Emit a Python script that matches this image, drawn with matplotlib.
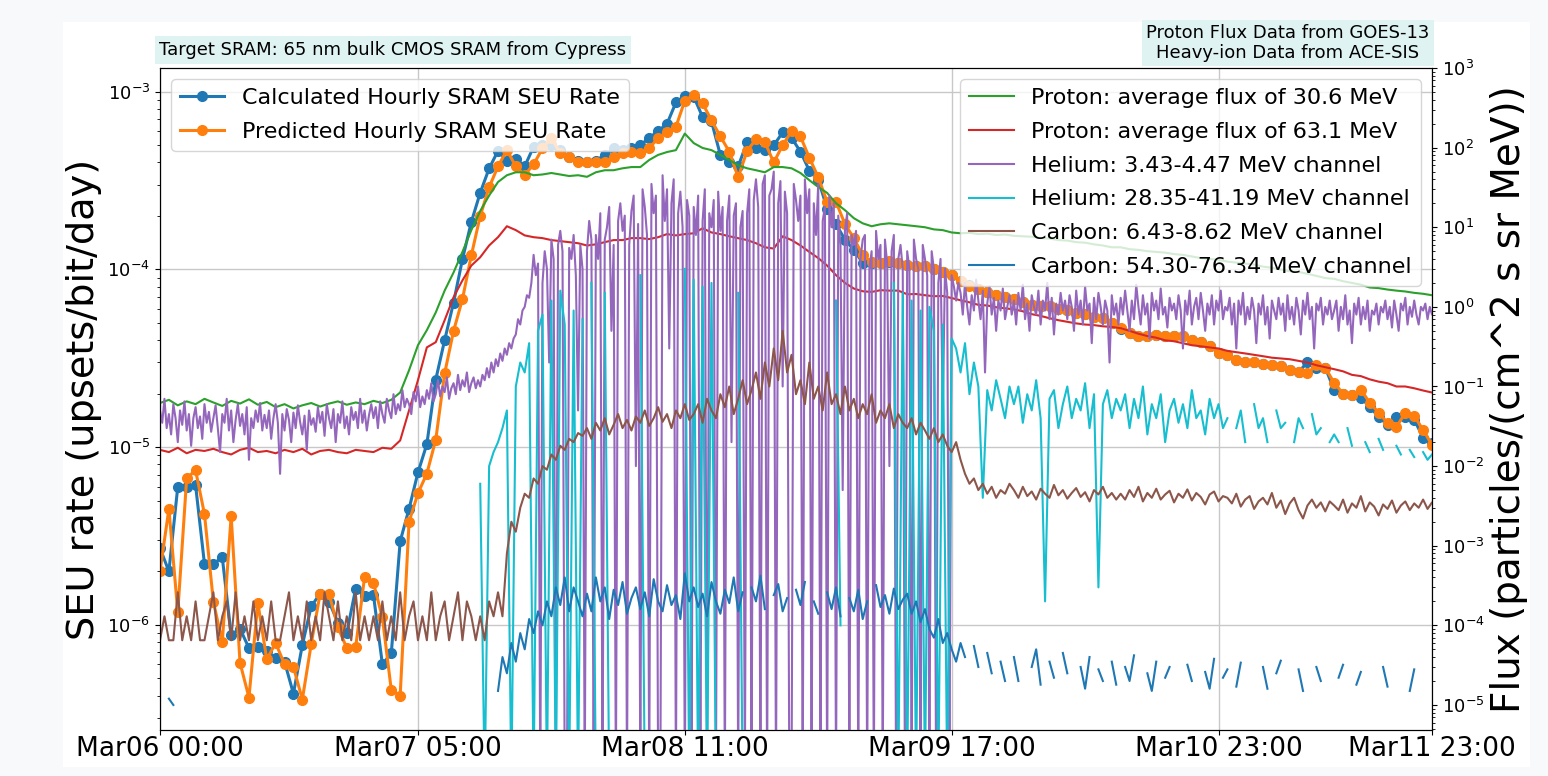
import numpy as np
import pandas as pd
import matplotlib
matplotlib.use("Agg")
import matplotlib.pyplot as plt
import matplotlib.dates as mdates
from matplotlib.patches import Rectangle

nan = np.nan
drop = 1e-6   # ACE dropouts, below the axis

# hourly SEU rates (upsets/bit/day), Mar06 00:00 .. Mar11 23:00
seu_calc = [
    2.7e-6, 2.0e-6, 6.0e-6, 6.0e-6, 6.1e-6, 2.2e-6, 2.2e-6, 2.4e-6, 8.8e-7, 9.5e-7, 7.4e-7, 7.5e-7,
    7.1e-7, 6.5e-7, 6.2e-7, 4.1e-7, 7.7e-7, 1.27e-6, 1.5e-6, 1.35e-6, 1.03e-6, 9.0e-7, 1.6e-6, 1.45e-6,
    1.47e-6, 6.0e-7, 6.9e-7, 2.95e-6, 4.5e-6, 7.2e-6, 1.04e-5, 2.4e-5, 4.0e-5, 6.5e-5, 1.14e-4, 1.85e-4,
    2.7e-4, 3.7e-4, 4.65e-4, 4.1e-4, 4.2e-4, 3.8e-4, 4.9e-4, 5.0e-4, 5.0e-4, 4.7e-4, 4.3e-4, 4.1e-4,
    4.0e-4, 4.1e-4, 4.4e-4, 4.8e-4, 4.7e-4, 4.8e-4, 5.0e-4, 5.5e-4, 6.0e-4, 6.6e-4, 8.7e-4, 9.5e-4,
    9.4e-4, 7.2e-4, 6.8e-4, 4.4e-4, 4.0e-4, 3.8e-4, 5.2e-4, 4.8e-4, 4.7e-4, 5.0e-4, 5.9e-4, 5.5e-4,
    4.6e-4, 3.6e-4, 3.2e-4, 2.2e-4, 1.8e-4, 1.47e-4, 1.29e-4, 1.09e-4, 1.09e-4, 1.09e-4, 1.1e-4, 1.09e-4,
    1.06e-4, 1.05e-4, 1.04e-4, 1.01e-4, 9.7e-5, 9.3e-5, 8.6e-5, 8.2e-5, 7.8e-5, 7.5e-5, 7.2e-5, 7.0e-5,
    6.8e-5, 6.6e-5, 6.3e-5, 6.2e-5, 6.2e-5, 6.0e-5, 5.9e-5, 5.7e-5, 5.6e-5, 5.4e-5, 5.35e-5, 5.0e-5,
    4.6e-5, 4.4e-5, 4.2e-5, 4.2e-5, 4.3e-5, 4.2e-5, 4.2e-5, 4.2e-5, 4.0e-5, 3.9e-5, 3.7e-5, 3.4e-5,
    3.3e-5, 3.1e-5, 3.0e-5, 3.0e-5, 2.95e-5, 2.9e-5, 2.85e-5, 2.7e-5, 2.65e-5, 3.0e-5, 2.8e-5, 2.8e-5,
    2.1e-5, 2.0e-5, 1.97e-5, 1.9e-5, 1.69e-5, 1.48e-5, 1.34e-5, 1.48e-5, 1.48e-5, 1.43e-5, 1.13e-5, 1.06e-5,
]
seu_pred = [
    2.0e-6, 4.5e-6, 1.18e-6, 6.7e-6, 7.4e-6, 4.2e-6, 1.35e-6, 8.0e-7, 4.1e-6, 6.1e-7, 3.9e-7, 1.33e-6,
    6.4e-7, 7.9e-7, 6.0e-7, 5.8e-7, 3.8e-7, 7.8e-7, 1.5e-6, 1.5e-6, 9.7e-7, 7.4e-7, 7.5e-7, 1.86e-6,
    1.72e-6, 1.1e-6, 4.3e-7, 4.0e-7, 3.8e-6, 5.5e-6, 7.1e-6, 1.1e-5, 2.6e-5, 4.5e-5, 6.8e-5, 1.2e-4,
    2.0e-4, 2.9e-4, 3.8e-4, 4.7e-4, 3.8e-4, 3.4e-4, 3.9e-4, 4.8e-4, 5.5e-4, 4.5e-4, 4.3e-4, 4.0e-4,
    4.0e-4, 4.0e-4, 4.0e-4, 4.3e-4, 4.5e-4, 4.6e-4, 4.5e-4, 4.8e-4, 5.5e-4, 5.9e-4, 6.35e-4, 8.9e-4,
    9.6e-4, 8.6e-4, 6.9e-4, 5.6e-4, 4.6e-4, 3.3e-4, 4.65e-4, 5.4e-4, 5.2e-4, 4.0e-4, 5.0e-4, 6.0e-4,
    5.6e-4, 4.25e-4, 3.3e-4, 2.4e-4, 2.4e-4, 1.8e-4, 1.5e-4, 1.2e-4, 1.1e-4, 1.09e-4, 1.12e-4, 1.09e-4,
    1.06e-4, 1.05e-4, 1.04e-4, 1.01e-4, 9.7e-5, 9.3e-5, 8.6e-5, 8.1e-5, 7.8e-5, 7.5e-5, 7.2e-5, 7.0e-5,
    6.8e-5, 6.6e-5, 6.3e-5, 6.2e-5, 6.2e-5, 6.0e-5, 5.9e-5, 5.7e-5, 5.6e-5, 5.4e-5, 5.35e-5, 5.0e-5,
    4.7e-5, 4.4e-5, 4.2e-5, 4.2e-5, 4.3e-5, 4.2e-5, 4.2e-5, 4.2e-5, 4.0e-5, 3.9e-5, 3.7e-5, 3.4e-5,
    3.3e-5, 3.1e-5, 3.0e-5, 3.0e-5, 2.95e-5, 2.9e-5, 2.85e-5, 2.7e-5, 2.65e-5, 2.6e-5, 2.9e-5, 2.8e-5,
    2.3e-5, 2.0e-5, 1.97e-5, 2.1e-5, 1.78e-5, 1.56e-5, 1.37e-5, 1.3e-5, 1.56e-5, 1.5e-5, 1.25e-5, 1.03e-5,
]

# hourly GOES-13 proton flux
p30 = [
    0.062, 0.068, 0.058, 0.065, 0.06, 0.07, 0.063, 0.057, 0.066, 0.061, 0.069, 0.059,
    0.064, 0.055, 0.06, 0.053, 0.058, 0.062, 0.056, 0.061, 0.065, 0.059, 0.063, 0.06,
    0.066, 0.062, 0.068, 0.084, 0.16, 0.33, 0.51, 0.85, 1.6, 2.7, 4.9, 9.2,
    16, 25, 37, 45, 49, 49, 45, 46, 48, 46, 44, 45,
    43, 49, 52, 52, 55, 57, 57, 70, 81, 88, 93, 150,
    114, 99, 93, 81, 70, 60, 55, 52, 49, 57, 57, 55,
    48, 39, 32, 27, 20, 16.4, 13, 11.2, 10.3, 10.9, 11.2, 10.9,
    10.6, 10.3, 10.0, 9.4, 9.2, 8.6, 8.4, 8.5, 8.2, 8.3, 8.0, 8.1,
    7.8, 7.7, 7.6, 7.3, 7.2, 6.9, 6.8, 6.5, 6.4, 6.1, 5.9, 5.6,
    5.6, 5.3, 5.2, 5.0, 4.9, 4.8, 4.6, 4.5, 4.3, 4.1, 4.0, 3.9,
    3.7, 3.6, 3.5, 3.4, 3.2, 3.1, 2.95, 2.8, 2.75, 2.6, 2.45, 2.3,
    2.25, 2.1, 2.0, 1.9, 1.75, 1.72, 1.65, 1.6, 1.56, 1.5, 1.46, 1.4,
]
p63 = [
    0.016, 0.015, 0.017, 0.0145, 0.016, 0.0155, 0.0165, 0.015, 0.014, 0.016, 0.017, 0.015,
    0.0155, 0.0145, 0.016, 0.015, 0.0165, 0.014, 0.0155, 0.016, 0.015, 0.0145, 0.016, 0.0155,
    0.015, 0.017, 0.0165, 0.021, 0.05, 0.12, 0.31, 0.36, 0.68, 1.32, 2.15, 3.3,
    4.2, 5.9, 7.5, 10.3, 9.2, 7.9, 7.5, 7.3, 6.9, 6.7, 6.5, 6.3,
    5.9, 6.1, 6.5, 6.9, 6.9, 7.3, 7.3, 7.1, 7.5, 8.2, 7.9, 8.2,
    8.4, 9.7, 8.6, 8.2, 7.7, 7.3, 6.9, 6.3, 5.6, 5.4, 7.7, 6.9,
    5.9, 4.9, 4.1, 3.3, 2.5, 2.0, 1.7, 1.57, 1.54, 1.62, 1.6, 1.6,
    1.44, 1.45, 1.40, 1.36, 1.37, 1.29, 1.21, 1.14, 1.06, 1.04, 0.99, 0.96,
    0.93, 0.88, 0.81, 0.77, 0.72, 0.68, 0.65, 0.62, 0.60, 0.59, 0.57, 0.56,
    0.54, 0.50, 0.46, 0.43, 0.41, 0.38, 0.37, 0.35, 0.33, 0.32, 0.31, 0.30,
    0.28, 0.27, 0.26, 0.25, 0.24, 0.23, 0.225, 0.22, 0.21, 0.20, 0.185, 0.175,
    0.165, 0.155, 0.14, 0.135, 0.123, 0.115, 0.11, 0.10, 0.10, 0.095, 0.089, 0.084,
]

# 15-minute ACE-SIS helium 3.43-4.47 MeV
he_low = [
    0.05, 0.035, 0.07, 0.03, 0.045, 0.025, 0.06, 0.04, 0.02, 0.05, 0.033, 0.065, 0.028, 0.045, 0.018, 0.04, 0.055, 0.03, 0.042, 0.022, 0.06, 0.035, 0.048, 0.027,
    0.04, 0.058, 0.03, 0.015, 0.045, 0.035, 0.07, 0.028, 0.05, 0.02, 0.038, 0.06, 0.032, 0.045, 0.025, 0.055, 0.012, 0.04, 0.03, 0.05, 0.036, 0.062, 0.028, 0.044,
    0.03, 0.05, 0.022, 0.04, 0.06, 0.035, 0.008, 0.045, 0.028, 0.052, 0.038, 0.02, 0.047, 0.03, 0.058, 0.036, 0.025, 0.043, 0.016, 0.05, 0.033, 0.04, 0.027, 0.055,
    0.035, 0.048, 0.024, 0.06, 0.04, 0.03, 0.052, 0.02, 0.045, 0.035, 0.065, 0.03, 0.042, 0.025, 0.055, 0.038, 0.048, 0.03, 0.07, 0.035, 0.05, 0.028, 0.044, 0.06,
    0.04, 0.055, 0.03, 0.065, 0.045, 0.035, 0.07, 0.05, 0.04, 0.08, 0.045, 0.06, 0.05, 0.09, 0.055, 0.07, 0.06, 0.045, 0.085, 0.065, 0.1, 0.055, 0.075, 0.06,
    0.09, 0.07, 0.11, 0.065, 0.08, 0.12, 0.075, 0.1, 0.085, 0.13, 0.07, 0.095, 0.11, 0.08, 0.14, 0.09, 0.12, 0.1, 0.15, 0.085, 0.11, 0.13, 0.095, 0.12,
    0.1, 0.14, 0.12, 0.17, 0.13, 0.2, 0.15, 0.22, 0.18, 0.26, 0.21, 0.3, 0.25, 0.35, 0.3, 0.4, 0.45, 0.7, 0.6, 0.9, 1.0, 1.4, 1.3, 2.0,
    4.5, 2.5, 3.5, drop, 2.0, 5.0, 3.0, 0.2, 7.0, 4.0, drop, 6.0, 9.0, 5.0, drop, drop, 5.5, 4.0, 8.0, 2.5, 0.05, 6.0, 3.0, drop,
    5, 12, 7, drop, 8, 4, 15, drop, 7, 10, 18, 0.5, 6, drop, 12, 20, 9, 14, drop, 6, 16, 25, 0.01, 11,
    drop, 30, 18, 8, drop, 35, 15, 25, drop, drop, 45, 12, 30, 0.3, 20, 40, drop, 15, 28, 10, drop, 22, 14, drop,
    18, 8, 25, drop, 12, 30, drop, 15, 10, 22, drop, 28, 9, 18, drop, 12, 25, 0.02, 14, 20, drop, 10, 16, drop,
    15, 30, drop, 22, 40, 18, drop, 35, 45, drop, 25, 30, 50, drop, 20, 38, 0.1, 28, 15, drop, drop, 35, 22, 12,
    25, drop, 40, 15, 30, drop, 20, 8, 35, drop, 12, 18, drop, 25, 10, 20, drop, 14, 6, 0.005, 9, 15, drop, 8,
    6, 9, drop, 4, 7, 8, drop, 3, 5, drop, 9, 4, 6, drop, 7, 3.5, 0.01, 5, 8, drop, 4, 6, 3, drop,
    5, 3, drop, 7, 4, 3, drop, 6, 4, 2.5, drop, 5, 3, drop, 2, 4, 0.05, 3, 1.5, drop, 2.5, 1.8, 1.2, 2.0,
    1.5, 0.8, 2.0, 1.0, 0.6, 1.4, 0.9, 2.2, 1.2, 0.7, 1.6, 0.15, 1.1, 1.8, 0.8, 1.3, 0.5, 1.2, 0.9, 1.7, 0.7, 1.0, 1.4, 0.8,
    1.2, 0.6, 1.5, 0.9, 1.9, 0.7, 1.1, 0.5, 1.4, 1.0, 0.8, 1.6, 0.6, 1.2, 0.9, 2.0, 0.7, 1.3, 0.45, 1.1, 0.8, 1.5, 0.9, 1.2,
    0.7, 1.4, 1.0, 0.5, 1.6, 0.8, 1.2, 0.6, 1.8, 0.9, 1.1, 0.35, 1.3, 0.7, 1.5, 1.0, 0.6, 1.2, 0.9, 0.2, 1.4, 0.8, 1.1, 0.6,
    1.3, 0.8, 1.6, 0.9, 0.5, 1.2, 0.7, 1.9, 1.0, 0.6, 1.4, 0.8, 1.1, 0.4, 1.5, 0.9, 1.2, 0.7, 1.7, 0.8, 1.0, 0.55, 1.3, 0.9,
    1.1, 0.7, 1.4, 0.9, 0.3, 1.2, 0.8, 1.6, 0.6, 1.0, 1.3, 0.7, 1.5, 0.9, 0.5, 1.1, 0.8, 1.4, 0.6, 1.2, 0.9, 1.6, 0.7, 1.0,
    0.9, 1.3, 0.6, 1.1, 0.3, 1.2, 0.8, 1.5, 0.6, 1.0, 0.7, 1.3, 0.9, 0.35, 1.1, 0.8, 1.4, 0.6, 1.0, 0.4, 1.2, 0.9, 0.7, 1.3,
    0.8, 1.1, 0.5, 1.4, 0.7, 1.0, 0.6, 1.3, 0.9, 0.45, 1.2, 0.8, 1.5, 0.7, 1.0, 0.3, 1.1, 0.9, 1.3, 0.6, 1.0, 0.8, 1.2, 0.7,
    0.9, 1.2, 0.5, 1.0, 0.7, 1.4, 0.6, 0.9, 0.35, 1.1, 0.8, 1.3, 0.6, 1.0, 0.7, 1.2, 0.5, 0.9, 0.8, 1.1, 0.6, 1.0, 0.85, 1.2,
    0.7, 1.0, 0.55, 1.2, 0.8, 0.5, 1.1, 0.9, 1.3, 0.6, 1.0, 0.75, 1.2, 0.8, 0.6, 1.0, 0.9, 1.1, 0.7, 1.0, 0.8, 0.9, 1.0, 0.85,
]
# half-hourly ACE-SIS flux
he_high = [
    nan, nan, nan, nan, nan, nan, nan, nan, nan, nan, nan, nan, nan, nan, nan, nan, nan, nan, nan, nan, nan, nan, nan, nan,
    nan, nan, nan, nan, nan, nan, nan, nan, nan, nan, nan, nan, nan, nan, nan, nan, nan, nan, nan, nan, nan, nan, nan, nan,
    nan, nan, nan, nan, nan, nan, nan, nan, nan, nan, nan, nan, nan, nan, nan, nan, nan, nan, nan, nan, nan, nan, nan, nan,
    0.006, drop, 0.01, 0.015, 0.02, 0.03, 0.05, drop, 0.1, 0.2, 0.15, 0.35, drop, 0.5, 0.8, drop, 1.2, drop, 1.6, 0.6, drop, 0.9, drop, 0.7,
    nan, 2.0, drop, nan, 1.5, drop, nan, nan, nan, nan, nan, nan, 2.5, drop, nan, nan, nan, nan, nan, nan, nan, nan, 3.0, drop,
    2.2, drop, 1.8, drop, 2.0, drop, nan, nan, nan, nan, 1.5, drop, nan, nan, nan, nan, nan, nan, nan, nan, nan, nan, nan, nan,
    nan, nan, nan, nan, nan, nan, nan, nan, 1.2, 0.0001, nan, nan, nan, nan, nan, nan, nan, nan, nan, nan, nan, 2.0, drop, 1.5,
    drop, 1.2, drop, 0.9, drop, 1.0, 0.5, drop, 0.6, drop, 0.4, 0.3, 0.15, 0.35, 0.08, 0.2, 0.1, 0.004, 0.09, 0.05, 0.12, 0.07, 0.04, 0.1,
    0.06, 0.1, 0.035, 0.08, 0.05, 0.12, 0.04, 0.0002, 0.07, 0.09, 0.03, 0.06, 0.1, 0.04, 0.07, 0.05, 0.11, 0.03, 0.08, 0.0003, 0.06, 0.09, 0.04, 0.07,
    0.05, 0.08, 0.03, 0.07, 0.04, 0.1, 0.025, 0.06, 0.04, 0.08, 0.02, 0.05, 0.07, 0.035, 0.06, 0.03, 0.09, 0.04, 0.05, 0.025, 0.07, 0.04, 0.06, 0.03,
    0.04, nan, 0.03, 0.05, 0.02, nan, 0.06, 0.03, 0.04, 0.02, nan, 0.05, 0.03, 0.035, nan, 0.02, 0.04, 0.03, nan, 0.045, 0.025, 0.03, nan, 0.02,
    0.025, 0.02, nan, 0.03, 0.018, nan, nan, 0.02, 0.015, nan, 0.022, 0.016, nan, nan, 0.018, 0.014, nan, 0.016, 0.013, nan, 0.015, 0.012, 0.014, nan,
]
c_low = [
    6.5e-5, 1.3e-4, 6.5e-5, 6.5e-5, 2.6e-4, 6.5e-5, 1.3e-4, 6.5e-5, 2.0e-4, 6.5e-5, 6.5e-5, 1.3e-4, 2.6e-4, 6.5e-5, 1.3e-4, 2.0e-4, 6.5e-5, 2.6e-4, 6.5e-5, 1.3e-4, 6.5e-5, 2.0e-4, 6.5e-5, 1.3e-4,
    6.5e-5, 2.0e-4, 6.5e-5, 6.5e-5, 1.3e-4, 2.6e-4, 6.5e-5, 1.3e-4, 6.5e-5, 2.0e-4, 6.5e-5, 1.3e-4, 6.5e-5, 2.6e-4, 1.3e-4, 6.5e-5, 2.0e-4, 6.5e-5, 1.3e-4, 6.5e-5, 2.6e-4, 6.5e-5, 1.3e-4, 6.5e-5,
    1.3e-4, 6.5e-5, 2.0e-4, 6.5e-5, 1.3e-4, 6.5e-5, 2.6e-4, 6.5e-5, 1.3e-4, 2.0e-4, 6.5e-5, 1.3e-4, 6.5e-5, 2.6e-4, 6.5e-5, 1.3e-4, 2.0e-4, 6.5e-5, 1.3e-4, 2.6e-4, 6.5e-5, 2.0e-4, 1.3e-4, 6.5e-5,
    1.3e-4, 6.5e-5, 2.0e-4, 1.3e-4, 2.6e-4, 1.3e-4, 0.0008, 0.002, 0.0015, 0.003, 0.0045, 0.004, 0.007, 0.006, 0.01, 0.009, 0.014, 0.012, 0.018, 0.016, 0.022, 0.02, 0.026, 0.024,
    0.03, 0.022, 0.035, 0.028, 0.04, 0.025, 0.033, 0.045, 0.03, 0.038, 0.028, 0.042, 0.035, 0.05, 0.032, 0.04, 0.055, 0.036, 0.045, 0.03, 0.05, 0.04, 0.06, 0.038,
    0.045, 0.06, 0.035, 0.07, 0.05, 0.04, 0.08, 0.055, 0.1, 0.045, 0.07, 0.12, 0.06, 0.09, 0.15, 0.07, 0.2, 0.1, 0.3, 0.12, 0.5, 0.15, 0.25, 0.08,
    0.12, 0.06, 0.2, 0.07, 0.1, 0.05, 0.15, 0.06, 0.08, 0.045, 0.1, 0.05, 0.07, 0.04, 0.06, 0.045, 0.08, 0.035, 0.05, 0.04, 0.06, 0.03, 0.045, 0.035,
    0.03, 0.04, 0.025, 0.035, 0.028, 0.022, 0.03, 0.02, 0.025, 0.018, 0.015, 0.02, 0.012, 0.008, 0.006, 0.007, 0.005, 0.006, 0.0045, 0.0055, 0.004, 0.005, 0.0045, 0.006,
    0.005, 0.004, 0.0055, 0.0042, 0.0048, 0.0038, 0.0052, 0.0045, 0.004, 0.0058, 0.0043, 0.005, 0.0039, 0.0046, 0.0053, 0.0041, 0.0047, 0.0036, 0.005, 0.0044, 0.0055, 0.004, 0.0046, 0.0038,
    0.0045, 0.0038, 0.005, 0.0041, 0.0055, 0.0036, 0.0046, 0.004, 0.0052, 0.0038, 0.0044, 0.0049, 0.0035, 0.0045, 0.004, 0.0051, 0.0037, 0.0046, 0.0041, 0.0033, 0.0044, 0.0048, 0.0036, 0.0042,
    0.004, 0.0034, 0.0045, 0.0031, 0.0038, 0.0042, 0.0029, 0.0036, 0.004, 0.0033, 0.0046, 0.003, 0.0037, 0.0025, 0.0034, 0.004, 0.0028, 0.0022, 0.0032, 0.0038, 0.003, 0.0035, 0.0027, 0.0036,
    0.0032, 0.0028, 0.0038, 0.0026, 0.0034, 0.003, 0.0042, 0.0027, 0.0035, 0.0031, 0.0024, 0.0033, 0.0029, 0.0037, 0.0026, 0.0032, 0.0036, 0.0028, 0.0034, 0.003, 0.0038, 0.0029, 0.0035, 0.0033,
]
c_high = [
    nan, nan, 1.2e-5, 1.0e-5, nan, nan, nan, nan, nan, nan, nan, nan, nan, nan, nan, nan, nan, nan, nan, nan, nan, nan, nan, nan,
    nan, nan, nan, nan, nan, nan, nan, nan, nan, nan, nan, nan, nan, nan, nan, nan, nan, nan, nan, nan, nan, nan, nan, nan,
    nan, nan, nan, nan, nan, nan, nan, nan, nan, nan, nan, nan, nan, nan, nan, nan, nan, nan, nan, nan, nan, nan, nan, nan,
    nan, nan, nan, nan, 1.5e-5, 4e-5, 2.5e-5, 6e-5, 3.5e-5, 8e-5, 5e-5, 1.2e-4, 8e-5, 1.5e-4, 1e-4, 2e-4, 1.3e-4, 3e-4, 1.8e-4, 4e-4, 1.5e-4, 3e-4, 2e-4, 1.3e-4,
    2.5e-4, 1.5e-4, 4e-4, 2e-4, 3e-4, 1.2e-4, 2.8e-4, 1.8e-4, 3.5e-4, 1.4e-4, 2.2e-4, 3e-4, 1.6e-4, 2.6e-4, 1.3e-4, 3.8e-4, 2e-4, 1.5e-4, 3.2e-4, 1.8e-4, 2.4e-4, 1.2e-4, 4.5e-4, 2e-4,
    3e-4, 1.7e-4, 2.5e-4, 1.3e-4, 3.5e-4, 2e-4, 1.4e-4, 2.8e-4, 1.9e-4, 4e-4, 1.5e-4, 2.6e-4, nan, 3e-4, 2e-4, 4.2e-4, 1.6e-4, nan, 2.4e-4, 3.3e-4, 1.5e-4, 2.2e-4, nan, 2.8e-4,
    1.8e-4, 3.5e-4, nan, 2e-4, 1.4e-4, nan, 2.6e-4, 1.6e-4, 3e-4, 1.3e-4, nan, 2.2e-4, 1.5e-4, 2.8e-4, 1.2e-4, 2e-4, nan, 3.2e-4, 1.7e-4, 2.4e-4, 1.4e-4, 2.9e-4, 1.6e-4, 2.1e-4,
    2.5e-4, 1.4e-4, 2e-4, 1.1e-4, 1.6e-4, 9e-5, 7e-5, 1.2e-4, 6e-5, 8e-5, 5e-5, 3.5e-5, 6e-5, 4e-5, nan, 5.5e-5, 3e-5, nan, 4.5e-5, 2.5e-5, nan, 3.5e-5, 2e-5, nan,
    4e-5, 2e-5, nan, nan, 3e-5, 5e-5, 1.8e-5, nan, 3.5e-5, 2.2e-5, nan, 4.5e-5, 2.5e-5, nan, nan, 3e-5, 1.6e-5, 4e-5, nan, 2.8e-5, 2e-5, nan, 3.5e-5, 1.8e-5,
    nan, 3e-5, 2e-5, 4.2e-5, nan, nan, 2.5e-5, 1.5e-5, 3.5e-5, nan, 2.2e-5, 3e-5, nan, 1.8e-5, nan, 3.2e-5, 2e-5, nan, nan, 2.6e-5, 1.6e-5, 3.8e-5, nan, 2.2e-5,
    2.8e-5, nan, 1.7e-5, 3.4e-5, nan, 2.3e-5, nan, nan, 3e-5, 1.6e-5, nan, 2.5e-5, 3.6e-5, nan, 2e-5, nan, 2.8e-5, 1.5e-5, nan, nan, 3e-5, 2e-5, nan, 2.6e-5,
    nan, 2.2e-5, 3.2e-5, nan, nan, 1.8e-5, 2.6e-5, nan, 2e-5, nan, nan, 3e-5, 1.7e-5, nan, nan, 2.4e-5, nan, 1.5e-5, 2.8e-5, nan, nan, 2e-5, nan, nan,
]

tick_times = ["2012-03-06 00:00", "2012-03-07 05:00", "2012-03-08 11:00",
              "2012-03-09 17:00", "2012-03-10 23:00", "2012-03-11 23:00"]

t0 = pd.Timestamp("2012-03-06 00:00")
hours = pd.date_range(t0, periods=len(seu_calc), freq="h")
half = pd.date_range(t0, periods=len(he_high), freq="30min")
quarter = pd.date_range(t0, periods=len(he_low), freq="15min")

W, H = 1548, 776
fig = plt.figure(figsize=(W / 100, H / 100), dpi=100, facecolor="#f8f9fa")
fig.add_artist(Rectangle((63 / W, 1 - 767 / H), (1530 - 63) / W, (767 - 22) / H,
                         transform=fig.transFigure, facecolor="white",
                         edgecolor="none", zorder=-5))

ax = fig.add_axes([160 / W, 1 - 730 / H, (1432 - 160) / W, (730 - 68) / H])
ax.plot(hours, seu_calc, "-o", color="tab:blue", lw=2.2, ms=7,
        label="Calculated Hourly SRAM SEU Rate")
ax.plot(hours, seu_pred, "-o", color="tab:orange", lw=2.2, ms=7,
        label="Predicted Hourly SRAM SEU Rate")
ax.set_yscale("log")
ax.set_ylim(2.56e-7, 1.36e-3)
ax.set_xlim(t0, pd.Timestamp(tick_times[-1]))
ax.set_xticks([pd.Timestamp(t) for t in tick_times])
ax.xaxis.set_major_formatter(mdates.DateFormatter("%b%d %H:%M"))
ax.tick_params(axis="x", labelsize=19, pad=0.5)
ax.tick_params(axis="y", labelsize=13)
ax.set_ylabel("SEU rate (upsets/bit/day)", fontsize=27.5)
ax.grid(True, color="#c8c8c8", lw=1.0)
ax.legend(loc="upper left", fontsize=16, labelspacing=0.62)

ax2 = ax.twinx()
ax2.plot(hours, p30, color="tab:green", lw=1.5, label="Proton: average flux of 30.6 MeV")
ax2.plot(hours, p63, color="tab:red", lw=1.5, label="Proton: average flux of 63.1 MeV")
ax2.plot(quarter, he_low, color="tab:purple", lw=1.5, label="Helium: 3.43-4.47 MeV channel")
ax2.plot(half, he_high, color="tab:cyan", lw=1.5, label="Helium: 28.35-41.19 MeV channel")
ax2.plot(half, c_low, color="tab:brown", lw=1.5, label="Carbon: 6.43-8.62 MeV channel")
ax2.plot(half, c_high, color="tab:blue", lw=1.5, label="Carbon: 54.30-76.34 MeV channel")
ax2.set_yscale("log")
ax2.set_ylim(4.85e-6, 1e3)
ax2.tick_params(axis="y", labelsize=13)
ax2.set_ylabel("Flux (particles/(cm^2 s sr MeV))", fontsize=28)
ax2.legend(loc="upper right", fontsize=16, labelspacing=0.62)

# the empty date offset texts sit at the bottom edge; hide them
for a in (ax, ax2):
    a.xaxis.get_offset_text().set_visible(False)

box = dict(boxstyle="square,pad=0.25", facecolor="#e0f3f3", edgecolor="none")
fig.text(393 / W, 1 - 50 / H, "Target SRAM: 65 nm bulk CMOS SRAM from Cypress",
         ha="center", va="center", fontsize=13, bbox=box)
fig.text(1288 / W, 1 - 43 / H, "Proton Flux Data from GOES-13\nHeavy-ion Data from ACE-SIS",
         ha="center", va="center", fontsize=13, linespacing=1.1, bbox=box)

fig.savefig("out.png", dpi=100, facecolor=fig.get_facecolor())
